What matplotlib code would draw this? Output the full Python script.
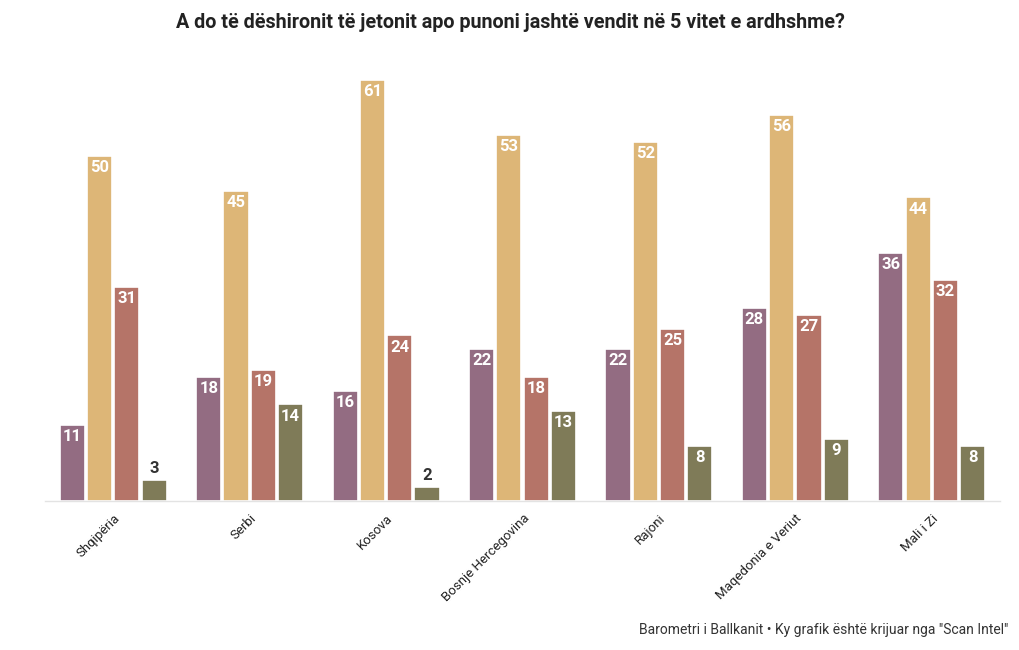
import matplotlib
matplotlib.use("Agg")
import matplotlib.pyplot as plt
import numpy as np

categories = ["Shqipëria", "Serbi", "Kosova", "Bosnje Hercegovina", "Rajoni",
              "Maqedonia e Veriut", "Mali i Zi"]
series1 = [11, 18, 16, 22, 22, 28, 36]
series2 = [50, 45, 61, 53, 52, 56, 44]
series3 = [31, 19, 24, 18, 25, 27, 32]
series4 = [3, 14, 2, 13, 8, 9, 8]
colors = ["#936C82", "#DDB677", "#B57468", "#7F7B58"]

title = "A do të dëshironit të jetonit apo punoni jashtë vendit në 5 vitet e ardhshme?"
footer = 'Barometri i Ballkanit • Ky grafik është krijuar nga "Scan Intel"'

fam = ["Liberation Sans Narrow", "Roboto", "DejaVu Sans"]
plt.rcParams["font.family"] = fam

fig = plt.figure(figsize=(10.2, 6.5), dpi=100)
ax = fig.add_axes([45/1020, 1-501/650, 955/1020, 436/650])

x = np.arange(len(categories))
step = 0.2
width = 0.185
all_series = [series1, series2, series3, series4]
for i, (vals, c) in enumerate(zip(all_series, colors)):
    pos = x + (i - 1.5) * step
    ax.bar(pos, vals, width=width, color=c, edgecolor="white", linewidth=1.2, zorder=2)
    for p, v in zip(pos, vals):
        if v >= 5:
            ax.annotate(str(v), (p, v), xytext=(0, -3), textcoords="offset points",
                        ha="center", va="top", color="white", fontsize=12,
                        fontweight="bold", zorder=3)
        else:
            ax.annotate(str(v), (p, v), xytext=(0, 3), textcoords="offset points",
                        ha="center", va="bottom", color="#333333", fontsize=12,
                        fontweight="bold", zorder=3)

ax.set_xlim(-0.5, len(categories) - 0.5)
ax.set_ylim(0, 436/6.9)
ax.set_xticks(x)
ax.set_xticklabels(categories, rotation=45, ha="right", rotation_mode="anchor",
                   fontsize=9.5, color="#222222")
ax.tick_params(axis="x", length=0, pad=8)
ax.set_yticks([])
for s in ["top", "right", "left"]:
    ax.spines[s].set_visible(False)
ax.spines["bottom"].set_color("#e3e3e3")
ax.spines["bottom"].set_linewidth(1)

fig.text(0.5, 1-22/650, title, ha="center", va="center", fontsize=14.2,
         fontweight="bold", color="#222222")
fig.text(1008/1020, 1-630/650, footer, ha="right", va="center", fontsize=10,
         color="#333333")

fig.savefig("out.png", dpi=100)
